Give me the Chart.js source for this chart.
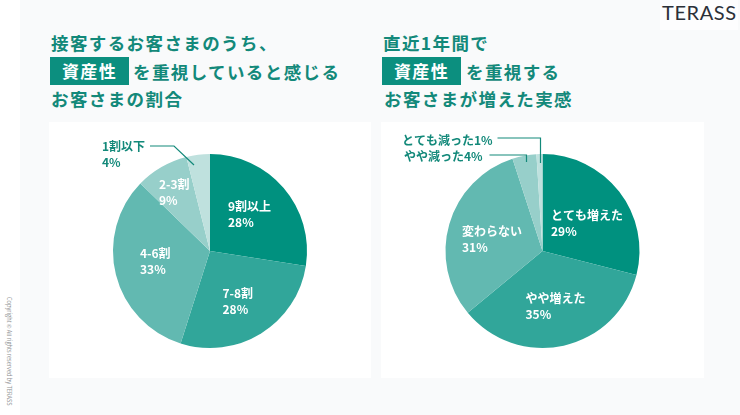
<!DOCTYPE html>
<html lang="ja">
<head>
<meta charset="utf-8">
<title>資産性</title>
<script src="https://cdn.jsdelivr.net/npm/chart.js@4"></script>
<style>
  html, body { margin: 0; padding: 0; background: #fff; }
  #page { position: relative; width: 740px; height: 415px; overflow: hidden; background: #fff; font-family: "Noto Sans CJK JP", "Noto Sans", sans-serif; }
  #bg { position: absolute; left: 20px; top: 0; width: 720px; height: 415px; background: #f9fafb; }
  #logoBox { position: absolute; left: 660px; top: 0; width: 78px; height: 30px; background: #fdfdfe; }
  #logo { position: absolute; left: 662px; top: -1px; font: 400 20px/26px Lato, sans-serif; color: #2b3038; letter-spacing: 0.6px; }
  .panel { position: absolute; top: 122px; height: 256px; background: #fff; }
  .panel canvas { display: block; }
  .title { position: absolute; font-weight: 700; font-size: 17.5px; line-height: 28px; color: #13897a; letter-spacing: 1.4px; white-space: nowrap; }
  .tag { position: absolute; width: 79px; height: 28px; background: #0c8f7f; color: #fff; text-align: center; font-weight: 700; font-size: 17px; line-height: 27px; letter-spacing: 1.4px; }
  #copy { position: absolute; left: 5px; top: 297px; font-size: 5.6px; line-height: 7px; color: #8d8f92; white-space: nowrap; transform-origin: 0 0; transform: translate(7px, 0) rotate(90deg); }
</style>
</head>
<body>
<div id="page">
  <div id="bg"></div>
  <div id="logoBox"></div>
  <div id="logo">TERASS</div>
  <div class="title" style="left:51px;top:29px">接客するお客さまのうち、</div>
  <div class="tag" style="left:50px;top:57px">資産性</div>
  <div class="title" style="left:133px;top:58px">を重視していると感じる</div>
  <div class="title" style="left:51px;top:85px">お客さまの割合</div>
  <div class="title" style="left:383px;top:29px">直近1年間で</div>
  <div class="tag" style="left:382px;top:57px">資産性</div>
  <div class="title" style="left:466px;top:58px">を重視する</div>
  <div class="title" style="left:384px;top:85px">お客さまが増えた実感</div>
  <div class="panel" style="left:49px;width:322px"><canvas id="chartLeft" width="322" height="256"></canvas></div>
  <div class="panel" style="left:381px;width:323px"><canvas id="chartRight" width="323" height="256"></canvas></div>
  <div id="copy">Copyright © All rights reserved by TERASS</div>
</div>
<script>
var leftCategories = ["9割以上", "7-8割", "4-6割", "2-3割", "1割以下"];
var leftValues = [28, 28, 33, 9, 4];
var rightCategories = ["とても増えた", "やや増えた", "変わらない", "やや減った", "とても減った"];
var rightValues = [29, 35, 31, 4, 1];

var sliceColors = ["#00917f", "#31a69a", "#62b9b1", "#97cfca", "#bfe1de"];
var teal = "#13897a";

// label anchors are dx/dy from the pie centre, one entry per slice
var leftLabelPos = [[18, -45], [12.5, 42], [-70, 2], [-51, -67], [-108, -105]];
var leftLabelColor = ["#fff", "#fff", "#fff", "#fff", teal];
var leftLeaders = [[[-60, -105], [-36, -105], [-16, -86]]];

var rightLabelPos = [[8.5, -36], [-17, 47], [-80.5, -20], [-138.5, -95], [-140.5, -111]];
var rightLabelColor = ["#fff", "#fff", "#fff", teal, teal];
var rightLeaders = [
  [[-45, -113], [-2, -113], [-2, -88]],
  [[-53, -96], [-16, -96], [-16, -89]]
];

var pieLabels = {
  id: "pieLabels",
  afterDraw: function (chart, args, opts) {
    var ctx = chart.ctx;
    var arc = chart.getDatasetMeta(0).data[0];
    var cx = arc.x, cy = arc.y;
    var values = chart.data.datasets[0].data;
    ctx.save();
    ctx.font = "700 12px 'Noto Sans CJK JP', 'Noto Sans', sans-serif";
    ctx.textAlign = "left";
    ctx.textBaseline = "middle";
    chart.data.labels.forEach(function (label, i) {
      var p = opts.pos[i];
      ctx.fillStyle = opts.colors[i];
      if (opts.oneLine && opts.oneLine[i]) {
        ctx.fillText(label + values[i] + "%", cx + p[0], cy + p[1]);
      } else {
        ctx.fillText(label, cx + p[0], cy + p[1]);
        ctx.fillText(values[i] + "%", cx + p[0], cy + p[1] + 16);
      }
    });
    ctx.strokeStyle = teal;
    ctx.lineWidth = 1.2;
    opts.leaders.forEach(function (pts) {
      ctx.beginPath();
      pts.forEach(function (pt, j) {
        if (j === 0) ctx.moveTo(cx + pt[0], cy + pt[1]);
        else ctx.lineTo(cx + pt[0], cy + pt[1]);
      });
      ctx.stroke();
    });
    ctx.restore();
  }
};

function makePie(id, labels, values, padding, labelOpts) {
  return new Chart(document.getElementById(id), {
    type: "pie",
    data: {
      labels: labels,
      datasets: [{ data: values, backgroundColor: sliceColors, borderWidth: 0 }]
    },
    options: {
      responsive: false,
      animation: false,
      layout: { padding: padding },
      plugins: {
        legend: { display: false },
        tooltip: { enabled: false },
        pieLabels: labelOpts
      }
    },
    plugins: [pieLabels]
  });
}

makePie("chartLeft", leftCategories, leftValues,
  { top: 32, bottom: 30, left: 64, right: 64 },
  { pos: leftLabelPos, colors: leftLabelColor, leaders: leftLeaders });

makePie("chartRight", rightCategories, rightValues,
  { top: 32, bottom: 30, left: 64.5, right: 64.5 },
  { pos: rightLabelPos, colors: rightLabelColor, leaders: rightLeaders, oneLine: [false, false, false, true, true] });
</script>
</body>
</html>
